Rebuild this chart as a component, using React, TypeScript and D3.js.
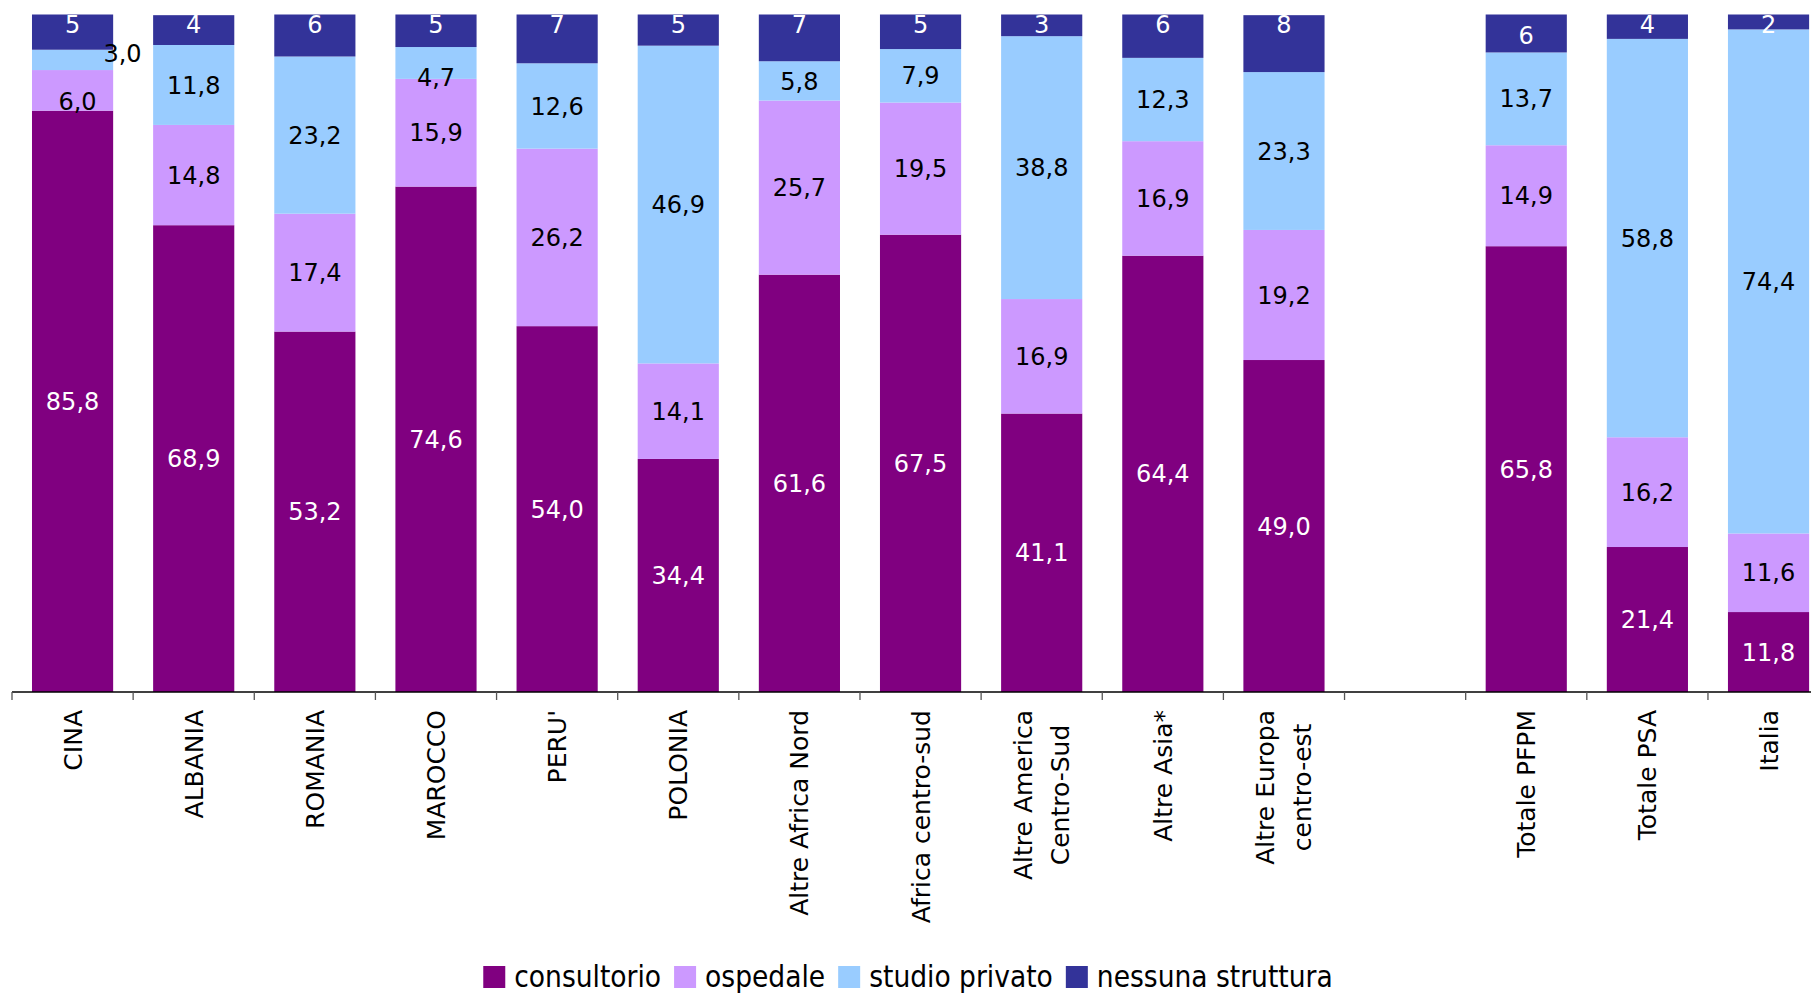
import React from "react";
import * as d3 from "d3";

// ---- data ----
const categories = [
  "CINA",
  "ALBANIA",
  "ROMANIA",
  "MAROCCO",
  "PERU'",
  "POLONIA",
  "Altre Africa Nord",
  "Africa centro-sud",
  "Altre America\nCentro-Sud",
  "Altre Asia*",
  "Altre Europa\ncentro-est",
  "",
  "Totale PFPM",
  "Totale PSA",
  "Italia",
];
const seriesNames = ["consultorio", "ospedale", "studio privato", "nessuna struttura"];
const consultorio = [85.8, 68.9, 53.2, 74.6, 54.0, 34.4, 61.6, 67.5, 41.1, 64.4, 49.0, null, 65.8, 21.4, 11.8];
const ospedale = [6.0, 14.8, 17.4, 15.9, 26.2, 14.1, 25.7, 19.5, 16.9, 16.9, 19.2, null, 14.9, 16.2, 11.6];
const studioPrivato = [3.0, 11.8, 23.2, 4.7, 12.6, 46.9, 5.8, 7.9, 38.8, 12.3, 23.3, null, 13.7, 58.8, 74.4];
const nessunaStruttura = [5.2, 4.4, 6.2, 4.8, 7.2, 4.6, 6.9, 5.1, 3.2, 6.4, 8.4, null, 5.6, 3.6, 2.2];

const seriesValues = [consultorio, ospedale, studioPrivato, nessunaStruttura];
const colors = ["#800080", "#CC99FF", "#99CCFF", "#333399"];
const labelColors = ["#ffffff", "#000000", "#000000", "#ffffff"];

// manually moved labels in the original (pixel nudges)
const labelNudge: Record<string, [number, number]> = {
  "0|1": [5, 11],
  "0|2": [50, -7],
  "3|2": [0, 14],
  "12|3": [0, 11],
};

const W = 1811;
const H = 995;
const AXIS_Y = 692;
const TOP_Y = 14.5;
const FONT = "'DejaVu Sans', Verdana, sans-serif";
const LEGEND_FONT = "'DejaVu Sans Condensed', 'Liberation Sans Narrow', 'DejaVu Sans', sans-serif";

let measureCtx: CanvasRenderingContext2D | null = null;
function measure(text: string, font: string): number {
  if (!measureCtx) {
    const c = document.createElement("canvas");
    measureCtx = c.getContext("2d");
  }
  if (!measureCtx) return text.length * 14;
  measureCtx.font = font;
  return measureCtx.measureText(text).width;
}

const fmt1 = (v: number) => d3.format(".1f")(v).replace(".", ",");
const fmt0 = (v: number) => d3.format(".0f")(v);

export default function App() {
  const rows = categories.map((c, i) => {
    const r: any = { cat: c, idx: i };
    seriesNames.forEach((s, k) => {
      r[s] = seriesValues[k][i];
    });
    return r;
  });

  const x = d3
    .scaleBand<number>()
    .domain(categories.map((_, i) => i))
    .range([12, 12 + 15 * 121.14])
    .paddingInner(0.33)
    .paddingOuter(0.165);
  const step = x.step();
  const x0 = x.range()[0];

  const y = d3.scaleLinear().domain([0, 100]).range([AXIS_Y, TOP_Y]);

  const stack = d3
    .stack<any>()
    .keys(seriesNames)
    .value((d, key) => (d[key] == null ? 0 : d[key]));
  const stacked = stack(rows);

  const catFontSize = 25;
  const catFont = `${catFontSize}px ${FONT}`;
  const labelTop = 710;

  const legendFontSize = 29.5;
  const legendFontStr = `${legendFontSize}px ${LEGEND_FONT}`;
  const sq = 22;
  const sqGap = 9;
  const itemGap = 13;
  const legendWidths = seriesNames.map((s) => sq + sqGap + measure(s, legendFontStr));
  const legendTotal = d3.sum(legendWidths) + itemGap * (seriesNames.length - 1);
  let lx = 908 - legendTotal / 2;
  const legendItems = seriesNames.map((s, k) => {
    const item = { name: s, x: lx, color: colors[k] };
    lx += legendWidths[k] + itemGap;
    return item;
  });

  return (
    <svg
      width={W}
      height={H}
      style={{ position: "absolute", left: 0, top: 0, background: "#fff" }}
      fontFamily={FONT}
    >
      <rect x={0} y={0} width={W} height={H} fill="#fff" />
      {/* bars */}
      {stacked.map((layer, k) => (
        <g key={seriesNames[k]} fill={colors[k]}>
          {layer.map((d, i) =>
            seriesValues[k][i] == null ? null : (
              <rect
                key={i}
                x={x(i)}
                y={y(d[1])}
                width={x.bandwidth()}
                height={y(d[0]) - y(d[1])}
              />
            )
          )}
        </g>
      ))}
      {/* value labels */}
      {stacked.map((layer, k) => (
        <g key={"l" + k} fill={labelColors[k]} fontSize={24} textAnchor="middle">
          {layer.map((d, i) => {
            const v = seriesValues[k][i];
            if (v == null) return null;
            const cx = (x(i) as number) + x.bandwidth() / 2;
            const nudge = labelNudge[`${i}|${k}`] || [0, 0];
            if (k === 3) {
              return (
                <text key={i} x={cx + nudge[0]} y={y(d[1]) + 18 + nudge[1]}>
                  {fmt0(v)}
                </text>
              );
            }
            const cy = (y(d[0]) + y(d[1])) / 2;
            return (
              <text key={i} x={cx + nudge[0]} y={cy + nudge[1]} dy="0.36em">
                {fmt1(v)}
              </text>
            );
          })}
        </g>
      ))}
      {/* axis */}
      <line x1={x0} x2={W} y1={AXIS_Y} y2={AXIS_Y} stroke="#000" strokeWidth={1.3} />
      {categories.map((_, i) => (
        <line
          key={"t" + i}
          x1={x0 + i * step}
          x2={x0 + i * step}
          y1={AXIS_Y}
          y2={AXIS_Y + 8}
          stroke="#555"
          strokeWidth={1.3}
        />
      ))}
      {/* category labels */}
      {categories.map((c, i) => {
        if (!c) return null;
        const lines = c.split("\n");
        const cx = (x(i) as number) + x.bandwidth() / 2;
        const lens = lines.map((l) => measure(l, catFont));
        const maxLen = d3.max(lens) || 0;
        const lineH = 37;
        const n = lines.length;
        return (
          <g key={"c" + i} fontSize={catFontSize} fill="#000">
            {lines.map((l, j) => {
              const lxPos = cx + (j - (n - 1) / 2) * lineH;
              const cyPos = labelTop + maxLen / 2;
              return (
                <text
                  key={j}
                  transform={`translate(${lxPos},${cyPos}) rotate(-90)`}
                  textAnchor="middle"
                  dy="0.36em"
                >
                  {l}
                </text>
              );
            })}
          </g>
        );
      })}
      {/* legend */}
      {legendItems.map((it) => (
        <g key={it.name}>
          <rect x={it.x} y={966} width={sq} height={sq} fill={it.color} />
          <text
            x={it.x + sq + sqGap}
            y={987}
            fontSize={legendFontSize}
            fontFamily={LEGEND_FONT}
            fill="#000"
          >
            {it.name}
          </text>
        </g>
      ))}
    </svg>
  );
}
